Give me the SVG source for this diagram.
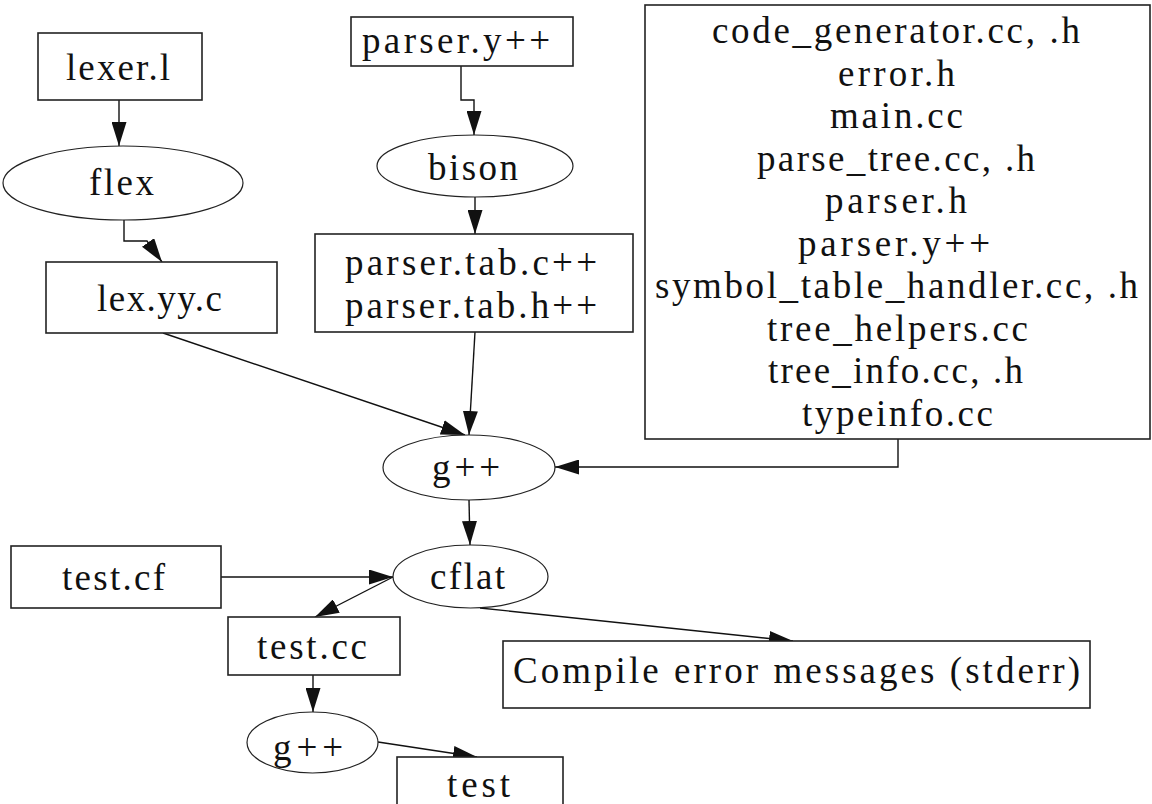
<svg xmlns="http://www.w3.org/2000/svg" width="1152" height="804" viewBox="0 0 1152 804">
<style>
.box{fill:#fff;stroke:#222;stroke-width:1.6}
.ell{fill:#fff;stroke:#222;stroke-width:1.2}
.t{font-family:"Liberation Serif","Times New Roman",serif;font-size:37px;fill:#111}
.e{fill:none;stroke:#111;stroke-width:1.4;marker-end:url(#ah)}
</style>
<defs>
<marker id="ah" markerUnits="userSpaceOnUse" markerWidth="24" markerHeight="15" refX="24" refY="7.5" orient="auto" viewBox="0 0 24 15">
<path d="M0,0 L24,7.5 L0,15 z" fill="#111"/>
</marker>
</defs>
<rect width="1152" height="804" fill="#fff"/>
<g id="connectors">
<path class="e" d="M119,100 V146"/>
<path class="e" d="M124,220 V241 H147 L162,262"/>
<path class="e" d="M461,66 V100 H474 V135"/>
<path class="e" d="M475,197 V234"/>
<path class="e" d="M163,333 L465,435"/>
<path class="e" d="M475,332 L469,435"/>
<path class="e" d="M898,439 V467 H555"/>
<path class="e" d="M469,500 L470,545"/>
<path class="e" d="M221,577 H393"/>
<path class="e" d="M393,577 L315,617"/>
<path class="e" d="M480,608 L793,641"/>
<path class="e" d="M313,675 V712"/>
<path class="e" d="M378,742 L477,757"/>
</g>
<g id="lexer_l"><rect class="box" x="38" y="33" width="164" height="67"/><text class="t" x="66" y="80" textLength="104" lengthAdjust="spacing">lexer.l</text></g>
<g id="flex"><ellipse class="ell" cx="123" cy="183" rx="120" ry="37"/><text class="t" x="89" y="195" textLength="65" lengthAdjust="spacing">flex</text></g>
<g id="lex_yy_c"><rect class="box" x="46" y="262" width="231" height="71"/><text class="t" x="97" y="311" textLength="125" lengthAdjust="spacing">lex.yy.c</text></g>
<g id="parser_y"><rect class="box" x="351" y="17" width="222" height="49"/><text class="t" x="362" y="53" textLength="188" lengthAdjust="spacing">parser.y++</text></g>
<g id="bison"><ellipse class="ell" cx="475" cy="166" rx="98" ry="31"/><text class="t" x="428" y="180" textLength="90" lengthAdjust="spacing">bison</text></g>
<g id="parser_tab"><rect class="box" x="315" y="234" width="318" height="98"/><text class="t" x="345" y="275" textLength="252" lengthAdjust="spacing">parser.tab.c++</text><text class="t" x="345" y="318" textLength="252" lengthAdjust="spacing">parser.tab.h++</text></g>
<g id="sources"><rect class="box" x="645" y="5" width="505" height="434"/>
<text class="t" x="712" y="43" textLength="368" lengthAdjust="spacing">code_generator.cc, .h</text>
<text class="t" x="838" y="85.5" textLength="117" lengthAdjust="spacing">error.h</text>
<text class="t" x="830" y="128" textLength="133" lengthAdjust="spacing">main.cc</text>
<text class="t" x="757" y="170.5" textLength="278" lengthAdjust="spacing">parse_tree.cc, .h</text>
<text class="t" x="825" y="213" textLength="142" lengthAdjust="spacing">parser.h</text>
<text class="t" x="798" y="255.5" textLength="192" lengthAdjust="spacing">parser.y++</text>
<text class="t" x="655" y="298" textLength="483" lengthAdjust="spacing">symbol_table_handler.cc, .h</text>
<text class="t" x="767" y="340.5" textLength="261" lengthAdjust="spacing">tree_helpers.cc</text>
<text class="t" x="768" y="383" textLength="255" lengthAdjust="spacing">tree_info.cc, .h</text>
<text class="t" x="802" y="425.5" textLength="191" lengthAdjust="spacing">typeinfo.cc</text>
</g>
<g id="gpp1"><ellipse class="ell" cx="469" cy="467.5" rx="86" ry="32.5"/><text class="t" x="432" y="480" textLength="68" lengthAdjust="spacing">g++</text></g>
<g id="test_cf"><rect class="box" x="11" y="546" width="210" height="62"/><text class="t" x="62" y="590" textLength="103" lengthAdjust="spacing">test.cf</text></g>
<g id="cflat"><ellipse class="ell" cx="470.5" cy="576.5" rx="77.5" ry="31.5"/><text class="t" x="430" y="589" textLength="75" lengthAdjust="spacing">cflat</text></g>
<g id="test_cc"><rect class="box" x="228" y="617" width="172" height="58"/><text class="t" x="257" y="659" textLength="110" lengthAdjust="spacing">test.cc</text></g>
<g id="errors"><rect class="box" x="503" y="641" width="587" height="67"/><text class="t" x="513" y="683" textLength="567" lengthAdjust="spacing">Compile error messages (stderr)</text></g>
<g id="gpp2"><ellipse class="ell" cx="312.5" cy="742.5" rx="65.5" ry="30.5"/><text class="t" x="273" y="760" textLength="70" lengthAdjust="spacing">g++</text></g>
<g id="test"><rect class="box" x="397" y="757" width="166" height="60"/><text class="t" x="447" y="797" textLength="63" lengthAdjust="spacing">test</text></g>
</svg>
